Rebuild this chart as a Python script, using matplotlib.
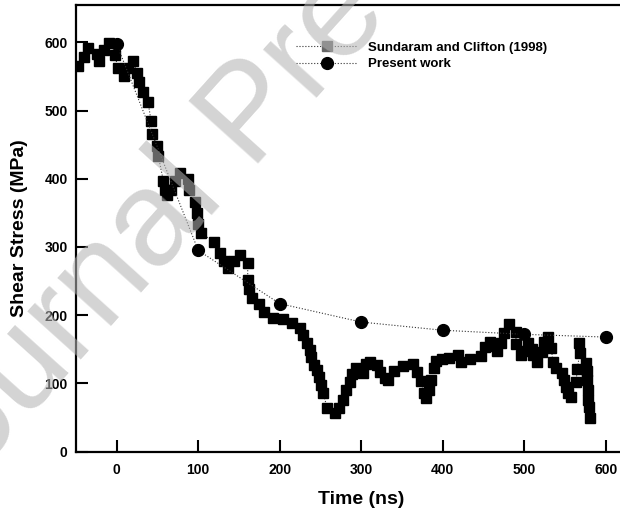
"""Shear stress vs time: Sundaram and Clifton (1998) vs present work."""
import matplotlib
matplotlib.use('Agg')
import matplotlib.pyplot as plt

plt.rcParams.update({
    'font.family': ['Liberation Sans', 'DejaVu Sans'],
    'font.weight': 'bold',
    'axes.labelweight': 'bold',
})

# ── Sundaram and Clifton (1998) ──
sc_time = [-47.5, -40.1, -35.2, -24.5, -21.7, -16.0, -9.4, -2.1, 1.2, 9.0,
           13.5, 20.0, 24.9, 27.4, 32.3, 38.4, 42.1, 43.3, 49.1, 51.0,
           57.2, 59.3, 62.1, 67.0, 71.2, 77.3, 87.9, 88.7, 96.1, 98.5,
           99.8, 103.8, 119.4, 126.4, 131.7, 136.9, 143.6, 150.9, 160.7, 160.7,
           162.0, 165.6, 174.6, 180.7, 192.1, 204.4, 215.5, 224.5, 229.0, 233.9,
           236.8, 238.4, 242.1, 246.1, 248.2, 250.3, 253.1, 258.4, 267.5, 272.8,
           277.7, 281.0, 286.3, 288.3, 294.0, 302.6, 306.3, 310.4, 319.8, 322.7,
           328.8, 333.3, 340.2, 351.3, 363.6, 368.8, 373.0, 377.1, 379.9, 383.2,
           386.0, 389.3, 392.1, 398.8, 407.7, 419.1, 422.8, 433.1, 446.6, 451.9,
           457.7, 463.8, 466.3, 471.2, 475.2, 481.3, 490.3, 489.6, 495.7, 498.9,
           504.7, 509.2, 511.2, 515.3, 521.5, 524.3, 529.2, 528.3, 533.3, 535.3,
           539.4, 546.0, 548.8, 550.9, 554.1, 557.8, 563.6, 565.2, 568.1, 567.2,
           575.5, 577.4, 577.4, 577.9, 578.7, 579.5, 580.7]
sc_stress = [565.2, 578.3, 592.1, 583.3, 572.5, 589.2, 598.8, 581.8, 562.2, 550.5,
             562.2, 572.5, 554.9, 541.7, 527.1, 512.4, 484.6, 465.2, 448.0, 433.4,
             396.8, 384.2, 375.8, 384.2, 396.8, 408.5, 399.3, 384.2, 365.2, 349.9,
             334.4, 319.8, 307.5, 290.5, 279.6, 269.4, 279.6, 288.0, 275.8, 251.4,
             237.8, 224.6, 216.3, 205.0, 196.2, 193.9, 188.9, 180.7, 170.9, 159.6,
             148.9, 138.2, 126.9, 119.6, 108.9, 97.6, 86.4, 63.5, 57.1, 64.4,
             75.7, 90.3, 102.5, 113.3, 122.1, 115.7, 128.4, 131.8, 126.9, 117.1,
             107.5, 105.0, 118.6, 125.5, 128.0, 117.1, 104.0, 85.5, 78.2, 90.3,
             105.0, 122.1, 132.8, 135.3, 137.6, 141.6, 131.8, 135.7, 140.1, 153.7,
             161.1, 154.8, 147.4, 158.7, 173.4, 186.5, 174.8, 157.2, 141.6, 147.4,
             158.7, 150.4, 141.6, 131.8, 146.4, 161.1, 168.4, 153.7, 151.4, 131.8,
             122.1, 114.8, 105.0, 95.2, 85.5, 79.6, 102.5, 120.6, 144.1, 159.6,
             130.3, 118.6, 105.0, 90.3, 75.7, 65.9, 48.9]

# ── Present work ──
pw_time = [0, 100, 200, 300, 400, 500, 600]
pw_stress = [597, 295, 217, 190, 178, 172, 168]

fig = plt.figure(figsize=(6.2, 5.14), dpi=100)
ax = fig.add_axes([0.1226, 0.1212, 0.920, 0.8696])

ax.plot(sc_time, sc_stress, linestyle=':', color='#333333', lw=0.8,
        marker='s', markersize=7, mfc='black', mec='black',
        label='Sundaram and Clifton (1998)', zorder=3)
ax.plot(pw_time, pw_stress, linestyle=':', color='#333333', lw=0.8,
        marker='o', markersize=8.5, mfc='black', mec='black',
        label='Present work', zorder=4)

ax.set_xlim(-50, 650)
ax.set_ylim(0, 655)
ax.set_xticks(range(0, 601, 100))
ax.set_yticks(range(0, 601, 100))
ax.tick_params(direction='in', length=8.5, width=1.5, labelsize=10, pad=8)
ax.tick_params(axis='y', pad=6)
for s in ax.spines.values():
    s.set_linewidth(1.6)

ax.set_xlabel('Time (ns)', fontsize=14, labelpad=10)
ax.set_ylabel('Shear Stress (MPa)', fontsize=14, labelpad=12)

leg = ax.legend(loc='upper left', bbox_to_anchor=(0.377, 0.93), frameon=False,
                fontsize=9.5, handlelength=4.6, handletextpad=0.8, labelspacing=0.35,
                borderaxespad=0.0)
leg.legend_handles[0].set_markerfacecolor('#666666')
leg.legend_handles[0].set_markeredgecolor('#666666')

# watermark (page-level, runs off the figure edges)
fig.text(-70 / 620, 1 - 527 / 514, 'Journal Pre-proof', fontsize=97, fontweight='normal',
         color='#b3b3b3', alpha=0.57, rotation=48, rotation_mode='anchor',
         ha='left', va='baseline', zorder=10)

plt.savefig('out.png', dpi=100)
